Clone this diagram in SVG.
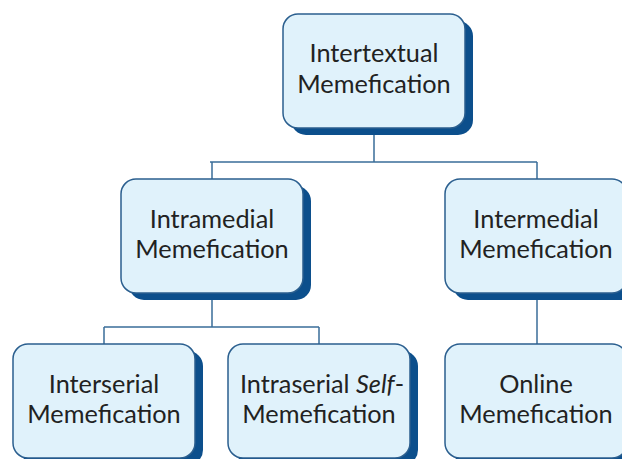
<svg xmlns="http://www.w3.org/2000/svg" width="622" height="459" viewBox="0 0 622 459">
<style>
.sh{fill:#0c4f8c;}
.bx{fill:#e0f2fb;stroke:#2b5f8f;stroke-width:1.5;}
.t{font-family:Lato,"Open Sans",sans-serif;font-size:25.3px;fill:#222;text-anchor:middle;}
.c{fill:none;stroke:#3a6d99;stroke-width:1.5;}
</style>
<rect width="622" height="459" fill="#fff"/>
<g id="connectors">
<path class="c" d="M374 128V162M210 162H537M212 179V162M537 179V162"/>
<path class="c" d="M212 293V327M104 327H319M104 344V327M319 344V327"/>
<path class="c" d="M537 292V344"/>
</g>
<g id="n-intertextual">
<rect class="sh" x="291" y="21" width="182" height="114" rx="15"/>
<rect class="bx" x="283" y="14" width="182" height="114" rx="15"/>
<text class="t" x="374" y="62">Intertextual</text>
<text class="t" x="374" y="93">Memefication</text>
</g>
<g id="n-intramedial">
<rect class="sh" x="129" y="186" width="182" height="114" rx="15"/>
<rect class="bx" x="121" y="179" width="182" height="114" rx="15"/>
<text class="t" x="212" y="228">Intramedial</text>
<text class="t" x="212" y="258">Memefication</text>
</g>
<g id="n-intermedial">
<rect class="sh" x="453" y="186" width="182" height="114" rx="15"/>
<rect class="bx" x="445" y="179" width="182" height="114" rx="15"/>
<text class="t" x="536" y="228">Intermedial</text>
<text class="t" x="536" y="258">Memefication</text>
</g>
<g id="n-interserial">
<rect class="sh" x="21" y="351" width="182" height="114" rx="15"/>
<rect class="bx" x="13" y="344" width="182" height="114" rx="15"/>
<text class="t" x="104" y="393">Interserial</text>
<text class="t" x="104" y="423">Memefication</text>
</g>
<g id="n-intraserial">
<rect class="sh" x="236" y="351" width="182" height="114" rx="15"/>
<rect class="bx" x="228" y="344" width="182" height="114" rx="15"/>
<text class="t" x="322" y="393">Intraserial <tspan font-style="italic">Self</tspan>-</text>
<text class="t" x="319" y="423">Memefication</text>
</g>
<g id="n-online">
<rect class="sh" x="453" y="351" width="182" height="114" rx="15"/>
<rect class="bx" x="445" y="344" width="182" height="114" rx="15"/>
<text class="t" x="536" y="393">Online</text>
<text class="t" x="536" y="423">Memefication</text>
</g>
</svg>
